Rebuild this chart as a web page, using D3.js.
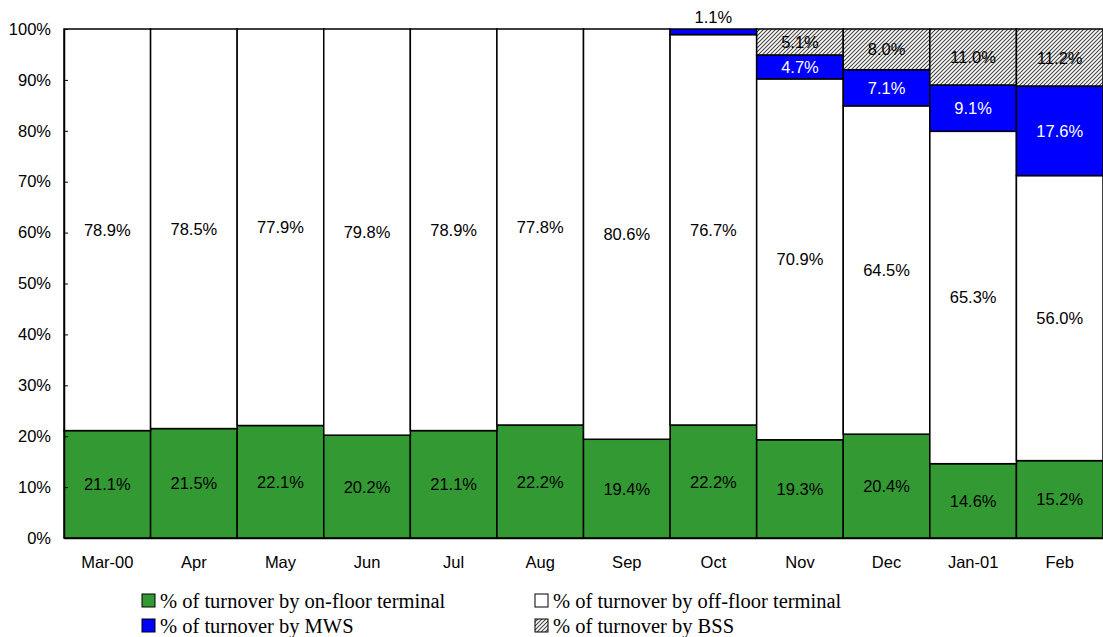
<!DOCTYPE html>
<html>
<head>
<meta charset="utf-8">
<script src="https://cdn.jsdelivr.net/npm/d3@7"></script>
<style>
  body { margin: 0; background: #fff; }
  svg { display: block; }
  .axis text { font-family: "Liberation Sans", Arial, sans-serif; font-size: 16.5px; fill: #000; }
  .seg-label { font-family: "Liberation Sans", Arial, sans-serif; font-size: 16.5px; }
  .legend text { font-family: "Liberation Serif", "Times New Roman", serif; font-size: 20.5px; fill: #000; }
</style>
</head>
<body>
<div id="chart"></div>
<script>
// Data
const months = ["Mar-00", "Apr", "May", "Jun", "Jul", "Aug", "Sep", "Oct", "Nov", "Dec", "Jan-01", "Feb"];
const onFloor = [21.1, 21.5, 22.1, 20.2, 21.1, 22.2, 19.4, 22.2, 19.3, 20.4, 14.6, 15.2];
const offFloor = [78.9, 78.5, 77.9, 79.8, 78.9, 77.8, 80.6, 76.7, 70.9, 64.5, 65.3, 56.0];
const mws = [0, 0, 0, 0, 0, 0, 0, 1.1, 4.7, 7.1, 9.1, 17.6];
const bss = [0, 0, 0, 0, 0, 0, 0, 0, 5.1, 8.0, 11.0, 11.2];
const yTicks = [0, 10, 20, 30, 40, 50, 60, 70, 80, 90, 100];

const seriesKeys = ["on", "off", "mws", "bss"];
const seriesNames = {
	on: "% of turnover by on-floor terminal",
	off: "% of turnover by off-floor terminal",
	mws: "% of turnover by MWS",
	bss: "% of turnover by BSS",
};
const fills = { on: "#339933", off: "#ffffff", mws: "#0000ff", bss: "url(#hatch)" };
const labelColors = { on: "#000", off: "#000", mws: "#fff", bss: "#000" };

const table = months.map((m, i) => ({ month: m, on: onFloor[i], off: offFloor[i], mws: mws[i], bss: bss[i] }));

// Dimensions
const W = 1103, H = 637;
const margin = { top: 29, right: 0, bottom: 99, left: 64 };
const width = W - margin.left - margin.right;
const height = H - margin.top - margin.bottom;

const svg = d3.select("#chart").append("svg").attr("width", W).attr("height", H);

// Hatch pattern for BSS
const defs = svg.append("defs");
const pat = defs.append("pattern")
	.attr("id", "hatch")
	.attr("patternUnits", "userSpaceOnUse")
	.attr("width", 4).attr("height", 4);
pat.append("rect").attr("width", 4).attr("height", 4).attr("fill", "#fff");
pat.append("path")
	.attr("d", "M-1,1 l2,-2 M0,4 l4,-4 M3,5 l2,-2")
	.attr("stroke", "#444").attr("stroke-width", 1.1);

const g = svg.append("g").attr("transform", `translate(${margin.left},${margin.top})`);

const x = d3.scaleBand().domain(months).range([0, width]).padding(0);
const y = d3.scaleLinear().domain([0, 100]).range([height, 0]);

const stacked = d3.stack().keys(seriesKeys)(table);

// Bars
const layers = g.selectAll(".layer").data(stacked).enter().append("g").attr("class", "layer");

layers.selectAll("rect")
	.data((s) => s.map((d) => ({ key: s.key, d })).filter((v) => v.d[1] - v.d[0] > 0))
	.enter().append("rect")
	.attr("x", (v) => x(v.d.data.month))
	.attr("width", x.bandwidth())
	.attr("y", (v) => y(v.d[1]))
	.attr("height", (v) => y(v.d[0]) - y(v.d[1]))
	.attr("fill", (v) => fills[v.key])
	.attr("stroke", "#000")
	.attr("stroke-width", 1.5);

// Labels (tiny segments get their label above the bar)
layers.selectAll("text")
	.data((s) => s.map((d) => ({ key: s.key, d })).filter((v) => v.d[1] - v.d[0] > 0))
	.enter().append("text")
	.attr("class", "seg-label")
	.attr("text-anchor", "middle")
	.attr("dominant-baseline", "central")
	.attr("x", (v) => x(v.d.data.month) + x.bandwidth() / 2)
	.attr("y", (v) => {
		const val = v.d[1] - v.d[0];
		if (val < 2) return y(v.d[1]) - 12;
		return y((v.d[0] + v.d[1]) / 2);
	})
	.attr("fill", (v) => (v.d[1] - v.d[0] < 2 ? "#000" : labelColors[v.key]))
	.text((v) => (v.d[1] - v.d[0]).toFixed(1) + "%");

// Axes
const yAxis = d3.axisLeft(y).tickValues(yTicks).tickFormat((d) => d + "%").tickSizeInner(-4).tickSizeOuter(0).tickPadding(13);
g.append("g").attr("class", "axis").call(yAxis)
	.call((a) => a.select(".domain").attr("stroke", "#000").attr("stroke-width", 1.5))
	.call((a) => a.selectAll(".tick line").attr("stroke", "#000"));

const xAxis = d3.axisBottom(x).tickSize(0).tickPadding(18);
g.append("g").attr("class", "axis").attr("transform", `translate(0,${height})`).call(xAxis)
	.call((a) => a.select(".domain").attr("stroke", "#000").attr("stroke-width", 1.5));

// Legend
const legendItems = [
	{ key: "on", x: 142, y: 601 },
	{ key: "off", x: 535, y: 601 },
	{ key: "mws", x: 142, y: 626 },
	{ key: "bss", x: 535, y: 626 },
];
const legend = svg.append("g").attr("class", "legend");
const li = legend.selectAll("g").data(legendItems).enter().append("g")
	.attr("transform", (d) => `translate(${d.x},${d.y})`);
li.append("rect")
	.attr("x", 0).attr("y", -7).attr("width", 13).attr("height", 13)
	.attr("fill", (d) => fills[d.key]).attr("stroke", "#000").attr("stroke-width", 1);
li.append("text")
	.attr("x", 18).attr("y", 0).attr("dominant-baseline", "central")
	.text((d) => seriesNames[d.key]);
</script>
</body>
</html>
